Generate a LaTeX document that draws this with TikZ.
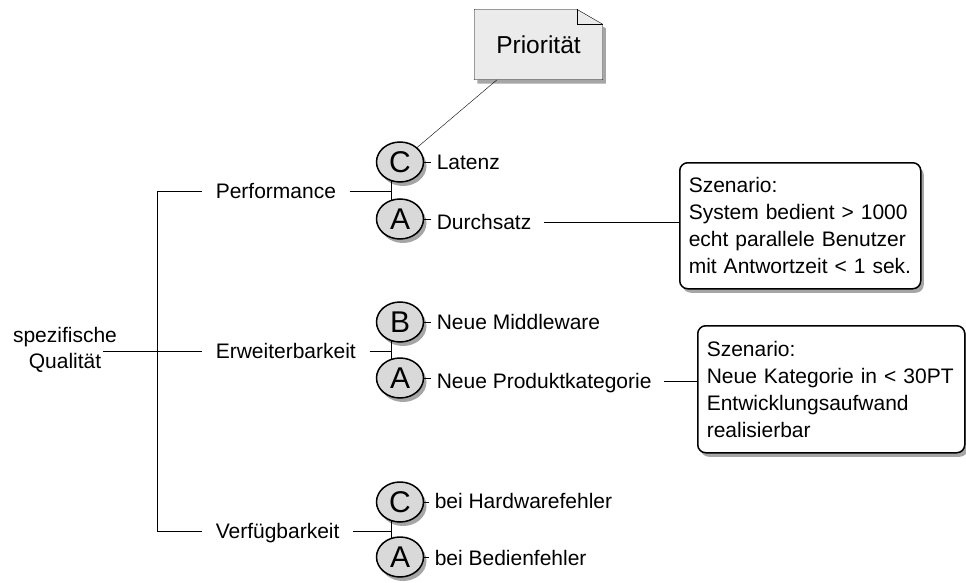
\documentclass[tikz,border=0pt]{standalone}
\usepackage{fontspec}
\setmainfont{Liberation Sans}
\usetikzlibrary{shapes.geometric,shadows,backgrounds,calc}
\begin{document}
\begin{tikzpicture}[x=1pt,y=-1pt,line width=1.5pt,
  myshadow/.style={drop shadow={shadow xshift=3pt,shadow yshift=-4pt,opacity=0.35,fill=black}},
  lbl/.style={font=\fontsize{21}{26}\selectfont, inner ysep=0pt, inner xsep=5pt, text height=15pt, text depth=0pt, anchor=west},
  cat/.style={lbl, inner xsep=13pt},
  badge/.style={ellipse, draw, fill=black!15, minimum width=47pt, minimum height=40pt, inner sep=0pt,
    font=\fontsize{30}{32}\selectfont, text height=21.5pt, text depth=0pt, myshadow},
  callout/.style={draw, rounded corners=8pt, fill=white, anchor=north west, align=left,
    inner xsep=9pt, font=\fontsize{21}{27}\selectfont, myshadow},
  notebox/.style={minimum width=127pt, minimum height=69pt, inner sep=0pt, font=\fontsize{24.5}{28}\selectfont}
]
\useasboundingbox (0,0) rectangle (966,583);

% root and categories
\node[font=\fontsize{21}{26}\selectfont, align=center, inner sep=0pt] (root) at (65,350) {spezifische\\Qualität};
\coordinate (rootend) at (103,351);
\node[cat] (perf) at (202,191) {Performance};
\node[cat] (erw) at (202,351) {Erweiterbarkeit};
\node[cat] (verf) at (202,531) {Verfügbarkeit};
\coordinate (ttop) at (157,191);
\coordinate (tbot) at (157,531);
\coordinate (pj) at (391,191);
\coordinate (ej) at (391,351);
\coordinate (vj) at (391,531);

% badges
\node[badge] (c1) at (400,162) {C};
\node[badge] (a1) at (400,219) {A};
\node[badge] (b2) at (400,322) {B};
\node[badge] (a2) at (400,378) {A};
\node[badge] (c3) at (400,502) {C};
\node[badge] (a3) at (400,557) {A};

% leaf labels
\node[lbl] (lat) at (431,162) {Latenz};
\node[lbl] (durch) at (431,222) {Durchsatz};
\node[lbl] (mid) at (431,322) {Neue Middleware};
\node[lbl] (prod) at (431,381) {Neue Produktkategorie};
\node[lbl] (hw) at (429,501) {bei Hardwarefehler};
\node[lbl] (bed) at (429,558) {bei Bedienfehler};

% callouts
\node[callout, minimum width=241pt, minimum height=126pt, text width=223pt] (box1) at (679,162)
  {Szenario:\\System bedient > 1000\\echt parallele Benutzer\\mit Antwortzeit < 1 sek.};
\node[callout, minimum width=267pt, minimum height=127pt, text width=249pt] (box2) at (697,325)
  {Szenario:\\Neue Kategorie in < 30PT\\Entwicklungsaufwand\\realisierbar};

% note
\node[notebox] (prio) at (538.5,44.5) {Priorität};

\begin{scope}[on background layer]
  \draw (rootend) -- (erw.west);
  \draw (perf.west) -- (ttop) -- (tbot) -- (verf.west);
  \draw (perf.east) -- (pj);
  \draw (erw.east) -- (ej);
  \draw (verf.east) -- (vj);
  \draw (c1 -| pj) -- (a1 -| pj);
  \draw (b2 -| ej) -- (a2 -| ej);
  \draw (c3 -| vj) -- (a3 -| vj);
  \draw (c1.east) -- (c1.east -| lat.west);
  \draw (a1.east) -- (a1.east -| durch.west);
  \draw (b2.east) -- (b2.east -| mid.west);
  \draw (a2.east) -- (a2.east -| prod.west);
  \draw (c3.east) -- (c3.east -| hw.west);
  \draw (a3.east) -- (a3.east -| bed.west);
  \draw ([xshift=7pt]durch.east) -- (durch.east -| box1.west);
  \draw ([xshift=7pt]prod.east) -- (prod.east -| box2.west);
  \draw (c1) -- (prio);
  \draw[fill=black!8, myshadow] (prio.north west) -- ($(prio.north east)+(-26,0)$) -- ($(prio.north east)+(0,15)$)
     -- (prio.south east) -- (prio.south west) -- cycle;
  \draw ($(prio.north east)+(-26,0)$) -- ($(prio.north east)+(-26,15)$) -- ($(prio.north east)+(0,15)$);
\end{scope}
\end{tikzpicture}
\end{document}
